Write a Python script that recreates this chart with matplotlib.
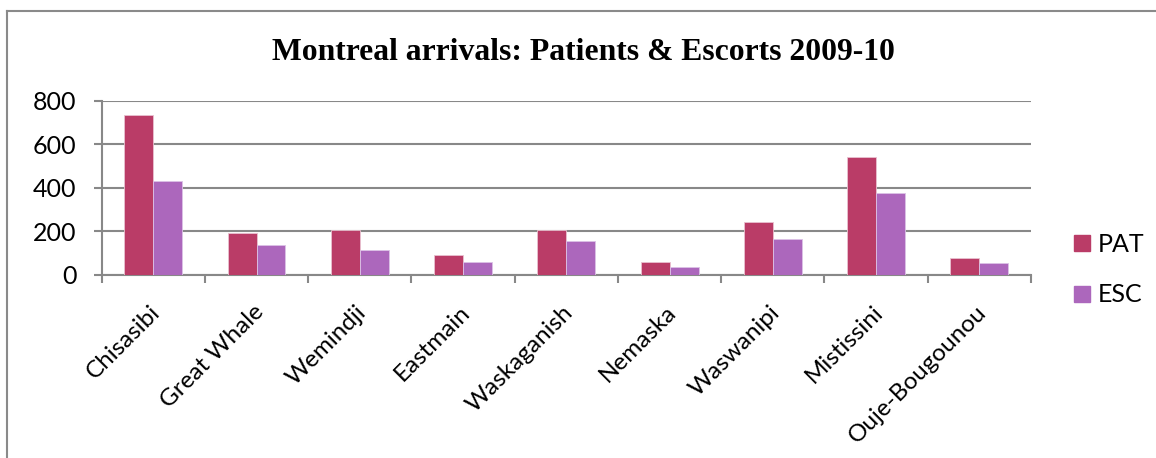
import matplotlib
matplotlib.use("Agg")
import matplotlib.pyplot as plt
import matplotlib.transforms as mtransforms
from matplotlib.lines import Line2D
import numpy as np

categories = ["Chisasibi", "Great Whale", "Wemindji", "Eastmain", "Waskaganish",
              "Nemaska", "Waswanipi", "Mistissini", "Ouje-Bougounou"]
pat = [733, 191, 205, 90, 205, 58, 242, 542, 77]
esc = [433, 138, 115, 61, 156, 38, 165, 375, 54]
yticks = [0, 200, 400, 600, 800]
series_names = ["PAT", "ESC"]
colors = ["#BA3C67", "#AC67BC"]
grid_color = "#888888"

plt.rcParams['font.family'] = ['Lato', 'DejaVu Sans']

fig = plt.figure(figsize=(11.56, 4.58), dpi=100)
ax = fig.add_axes([101.7/1156, 1-275/458, (1031-101.7)/1156, (275-100.7)/458])

x = np.arange(len(categories))
w = 0.28
ax.bar(x - w/2, pat, width=w, color=colors[0], edgecolor="#e9c2d0", linewidth=0.6, zorder=3)
ax.bar(x + w/2, esc, width=w, color=colors[1], edgecolor="#dcc2e6", linewidth=0.6, zorder=3)

ax.set_xlim(-0.5, len(categories) - 0.5)
ax.set_ylim(0, 800)
ax.set_yticks(yticks)
ax.set_yticklabels([str(v) for v in yticks], fontsize=18)
ax.yaxis.grid(True, color=grid_color, linewidth=1.5, zorder=0)
ax.set_axisbelow(True)

for s in ["top", "right"]:
    ax.spines[s].set_visible(False)
for s in ["left", "bottom"]:
    ax.spines[s].set_color(grid_color)
    ax.spines[s].set_linewidth(1.5)

ax.tick_params(axis='y', length=6, width=1.5, color=grid_color, pad=12)
ax.set_xticks(x)
ax.set_xticklabels(categories, fontsize=17.5, rotation=45, ha='right', va='top',
                   rotation_mode='anchor')
ax.tick_params(axis='x', length=0, pad=19)
ax.set_xticks(np.arange(-0.5, len(categories)), minor=True)
ax.tick_params(axis='x', which='minor', length=6, width=1.5, color=grid_color)
offset = mtransforms.ScaledTranslation(-4/100, 0, fig.dpi_scale_trans)
for lab in ax.get_xticklabels():
    lab.set_transform(lab.get_transform() + offset)

fig.text(583.5/1156, 1-60/458, "Montreal arrivals: Patients & Escorts 2009-10",
         family="Liberation Serif", fontweight="bold", fontsize=22.8,
         ha="center", va="baseline")

handles = [Line2D([], [], marker='s', linestyle='none', markersize=11,
                  markerfacecolor=c, markeredgecolor=c) for c in colors]
fig.legend(handles, series_names, loc='center left',
           bbox_to_anchor=(1054/1156, 1-269.5/458), frameon=False, fontsize=18,
           handletextpad=0.05, labelspacing=1.1, handlelength=1.2, borderpad=0)

# outer frame (left and top edges visible)
fig.add_artist(Line2D([7/1156, 7/1156], [0, 1-10.5/458], transform=fig.transFigure,
                      color="#8a8a8a", linewidth=1.5))
fig.add_artist(Line2D([7/1156, 1], [1-10.5/458, 1-10.5/458], transform=fig.transFigure,
                      color="#8a8a8a", linewidth=1.5))

fig.savefig("out.png", dpi=100)
